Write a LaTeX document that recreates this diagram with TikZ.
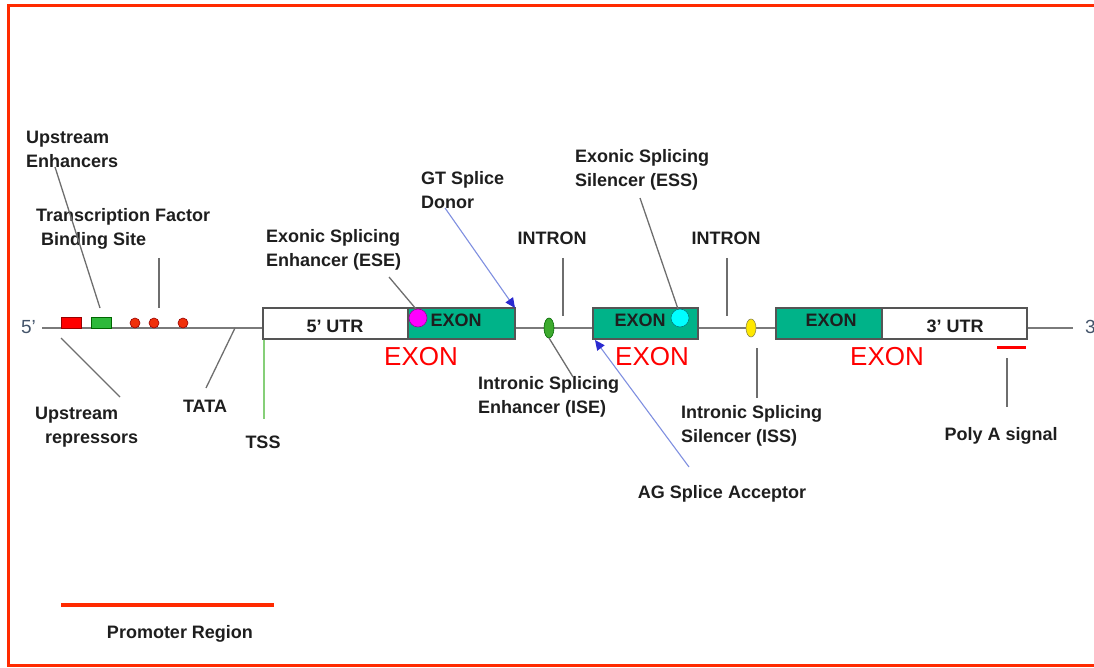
\documentclass[tikz,border=0pt]{standalone}
\usepackage{fontspec}
\setmainfont{Liberation Sans}
\usetikzlibrary{arrows.meta,shapes.geometric}
\definecolor{border}{HTML}{FF2A00}
\definecolor{teal}{HTML}{00B389}
\definecolor{dnagray}{HTML}{7A7A7A}
\definecolor{linegray}{HTML}{6E6E6E}
\definecolor{boxgray}{HTML}{555555}
\definecolor{bluel}{HTML}{7F8FE0}
\definecolor{blued}{HTML}{2A2AD0}
\definecolor{tssgreen}{HTML}{86CF78}
\definecolor{txt}{HTML}{1E1E1E}
\definecolor{endtxt}{HTML}{44546A}
\definecolor{magfill}{HTML}{FF00FF}
\definecolor{cyanfill}{HTML}{00FFFF}
\definecolor{dotred}{HTML}{F0300A}
\definecolor{isegreen}{HTML}{3DAA2E}
\definecolor{issyellow}{HTML}{FFE800}
\definecolor{tfgreen}{HTML}{2DB93A}
\begin{document}
\begin{tikzpicture}[x=1pt,y=-1pt,
  lbl/.style={font=\fontsize{18}{24}\selectfont\bfseries, text=txt, inner sep=0pt, align=left},
  redlbl/.style={font=\fontsize{26}{30}\selectfont, text=red, inner sep=0pt},
  endlbl/.style={font=\fontsize{19}{24}\selectfont, text=endtxt, inner sep=0pt},
  utrbox/.style={draw=boxgray, line width=1.2pt, fill=white, minimum height=31pt, inner sep=0pt},
  exonbox/.style={draw=boxgray, line width=1.2pt, fill=teal, minimum height=31pt, inner sep=0pt},
  conn/.style={draw=linegray, line width=1.3pt},
  blueconn/.style={draw=bluel, line width=1.1pt, -{Triangle[length=10pt,width=9pt,color=blued]}},
  dot/.style={circle, draw=red!60!black, line width=0.6pt, fill=dotred, minimum size=10pt, inner sep=0pt},
]
\useasboundingbox (0,0) rectangle (1094,668);
% frame
\draw[border, line width=3pt] (1100,6) -- (8,6) -- (8,665) -- (1100,665);

% DNA line
\coordinate (s5) at (42,328);
\coordinate (e3) at (1073,328);
\draw[dnagray, line width=1.5pt] (s5) -- (e3);
\node[endlbl, anchor=east] (five) at (36,327) {5’};
\node[endlbl, anchor=west] (three) at (1085,327) {3’};

% promoter elements
\node[draw=red!60!black, line width=0.6pt, fill=red, minimum width=20pt, minimum height=11pt, inner sep=0pt] (ue) at (71,322.5) {};
\node[draw=green!40!black, line width=0.6pt, fill=tfgreen, minimum width=20pt, minimum height=11pt, inner sep=0pt] (tf) at (101,322.5) {};
\node[dot] (d1) at (135,323) {};
\node[dot] (d2) at (154,323) {};
\node[dot] (d3) at (183,323) {};

% boxes
\node[utrbox, minimum width=145pt] (utr5) at (335.5,323.5) {};
\node[exonbox, minimum width=107pt] (ex1) at (461.5,323.5) {};
\node[exonbox, minimum width=105pt] (ex2) at (645.5,323.5) {};
\node[exonbox, minimum width=106pt] (ex3) at (829,323.5) {};
\node[utrbox, minimum width=145pt] (utr3) at (954.5,323.5) {};

\node[lbl] (t5utr) at (335,326) {5’ UTR};
\node[lbl] (tex1) at (456,320) {EXON};
\node[lbl] (tex2) at (640,320) {EXON};
\node[lbl] (tex3) at (831,320) {EXON};
\node[lbl] (t3utr) at (955,326) {3’ UTR};

% splicing elements
\node[circle, draw=magfill!60!black, line width=0.6pt, fill=magfill, minimum size=18pt, inner sep=0pt] (ese) at (418,318) {};
\node[circle, draw=cyanfill!50!black, line width=0.6pt, fill=cyanfill, minimum size=18pt, inner sep=0pt] (ess) at (680,318) {};
\node[ellipse, draw=green!40!black, line width=0.6pt, fill=isegreen, minimum width=10pt, minimum height=20pt, inner sep=0pt] (ise) at (549,328) {};
\node[ellipse, draw=yellow!50!black, line width=0.6pt, fill=issyellow, minimum width=10pt, minimum height=18pt, inner sep=0pt] (iss) at (751,328) {};

% red EXON labels
\node[redlbl] (r1) at (421,357) {EXON};
\node[redlbl] (r2) at (652,357) {EXON};
\node[redlbl] (r3) at (887,357) {EXON};

% poly A bar
\coordinate (pa1) at (997,347);
\coordinate (pa2) at (1026,347);
\draw[red, line width=3pt] (pa1) -- (pa2);

% promoter bar
\coordinate (pr1) at (61,605);
\coordinate (pr2) at (274,605);
\draw[border, line width=4pt] (pr1) -- (pr2);

% labels
\node[lbl, anchor=west] (lenh) at (26,149) {Upstream\\Enhancers};
\node[lbl, anchor=west] (ltf) at (36,229) {Transcription Factor\\\hspace*{5pt}Binding Site};
\node[lbl, anchor=west] (lese) at (266,250) {Exonic Splicing\\Enhancer (ESE)};
\node[lbl, anchor=west] (lgt) at (421,190) {GT Splice\\Donor};
\node[lbl, anchor=west] (less) at (575,170) {Exonic Splicing\\Silencer (ESS)};
\node[lbl] (lin1) at (552,238) {INTRON};
\node[lbl] (lin2) at (726,238) {INTRON};
\node[lbl, anchor=west] (lise) at (478,397) {Intronic Splicing\\Enhancer (ISE)};
\node[lbl, anchor=west] (liss) at (681,426) {Intronic Splicing\\Silencer (ISS)};
\node[lbl] (lag) at (722,494) {AG Splice Acceptor};
\node[lbl, anchor=west] (lrep) at (35,427) {Upstream\\\hspace*{10pt}repressors};
\node[lbl] (ltata) at (205,406) {TATA};
\node[lbl] (ltss) at (263,442) {TSS};
\node[lbl] (lpa) at (1001,436) {Poly A signal};
\node[lbl] (lprom) at (180,634) {Promoter Region};

% connectors
\coordinate (c1a) at (55,167);   \coordinate (c1b) at (100,308);
\draw[conn] (c1a) -- (c1b);
\coordinate (c2a) at (159,258);  \coordinate (c2b) at (159,308);
\draw[conn] (c2a) -- (c2b);
\coordinate (c3a) at (61,338);   \coordinate (c3b) at (120,397);
\draw[conn] (c3a) -- (c3b);
\coordinate (c4a) at (235,328);  \coordinate (c4b) at (206,388);
\draw[conn] (c4a) -- (c4b);
\coordinate (c5a) at (264,339.5);  \coordinate (c5b) at (264,419);
\draw[draw=tssgreen, line width=1.2pt] (c5a) -- (c5b);
\coordinate (c6a) at (389,277);  \coordinate (c6b) at (416,309);
\draw[conn] (c6a) -- (c6b);
\coordinate (c7a) at (445,208);  \coordinate (c7b) at (515,308);
\draw[blueconn] (c7a) -- (c7b);
\coordinate (c8a) at (563,258);  \coordinate (c8b) at (563,316);
\draw[conn] (c8a) -- (c8b);
\coordinate (c9a) at (549,338);  \coordinate (c9b) at (573,377);
\draw[conn] (c9a) -- (c9b);
\coordinate (c10a) at (640,198); \coordinate (c10b) at (678,309);
\draw[conn] (c10a) -- (c10b);
\coordinate (c11a) at (727,258); \coordinate (c11b) at (727,316);
\draw[conn] (c11a) -- (c11b);
\coordinate (c12a) at (757,348); \coordinate (c12b) at (757,398);
\draw[conn] (c12a) -- (c12b);
\coordinate (c13a) at (689,467); \coordinate (c13b) at (595,340);
\draw[blueconn] (c13a) -- (c13b);
\coordinate (c14a) at (1007,358); \coordinate (c14b) at (1007,407);
\draw[conn] (c14a) -- (c14b);
\end{tikzpicture}
\end{document}
